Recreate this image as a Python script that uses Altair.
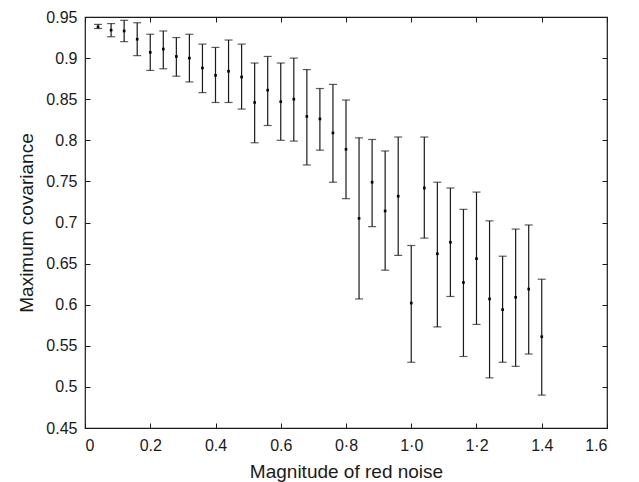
import altair as alt
import pandas as pd

noise = [0.04, 0.08, 0.12, 0.16, 0.20, 0.24, 0.28, 0.32, 0.36, 0.40, 0.44, 0.48,
         0.52, 0.56, 0.60, 0.64, 0.68, 0.72, 0.76, 0.80, 0.84, 0.88, 0.92, 0.96,
         1.00, 1.04, 1.08, 1.12, 1.16, 1.20, 1.24, 1.28, 1.32, 1.36, 1.40]
mean_cov = [0.938, 0.934, 0.933, 0.923, 0.907, 0.911, 0.902, 0.900, 0.888, 0.879,
            0.884, 0.877, 0.846, 0.861, 0.847, 0.850, 0.829, 0.826, 0.809, 0.789,
            0.705, 0.749, 0.714, 0.732, 0.602, 0.742, 0.662, 0.676, 0.627, 0.656,
            0.607, 0.594, 0.609, 0.619, 0.561]
upper_cov = [0.941, 0.942, 0.946, 0.943, 0.929, 0.933, 0.925, 0.929, 0.917, 0.913,
             0.922, 0.917, 0.894, 0.902, 0.894, 0.900, 0.886, 0.863, 0.868, 0.849,
             0.803, 0.801, 0.787, 0.804, 0.672, 0.804, 0.749, 0.742, 0.716, 0.737,
             0.702, 0.659, 0.692, 0.697, 0.631]
lower_cov = [0.936, 0.926, 0.920, 0.903, 0.885, 0.887, 0.878, 0.871, 0.858, 0.846,
             0.846, 0.838, 0.797, 0.818, 0.800, 0.799, 0.770, 0.788, 0.749, 0.729,
             0.607, 0.695, 0.642, 0.660, 0.530, 0.681, 0.573, 0.610, 0.537, 0.576,
             0.511, 0.530, 0.525, 0.540, 0.490]

x_ticks = [0, 0.2, 0.4, 0.6, 0.8, 1.0, 1.2, 1.4, 1.6]
x_tick_labels = ["0", "0.2", "0.4", "0.6", "0\u00b78", "1\u00b70", "1\u00b72", "1.4", "1.6"]
y_ticks = [0.45, 0.5, 0.55, 0.6, 0.65, 0.7, 0.75, 0.8, 0.85, 0.9, 0.95]

df = pd.DataFrame({"x": noise, "m": mean_cov, "hi": upper_cov, "lo": lower_cov})

W, H = 522, 411
FONT = "Liberation Sans"
INK = "#1a1a1a"

label_arr = "[" + ",".join("'" + s + "'" for s in x_tick_labels) + "]"
x_label_expr = label_arr + "[round(datum.value*5)]"

xs = alt.Scale(domain=[0, 1.6], nice=False, zero=False)
ys = alt.Scale(domain=[0.45, 0.95], nice=False, zero=False)

base = alt.Chart(df)

# main axes with labels (no ticks)
rules = base.mark_rule(color=INK, strokeWidth=1.2).encode(
    x=alt.X("x:Q", scale=xs, axis=alt.Axis(
        orient="bottom", values=x_ticks, labelExpr=x_label_expr, ticks=False,
        domain=False, grid=False, title="Magnitude of red noise",
        labelFont=FONT, labelFontSize=16, labelColor=INK, labelPadding=9,
        titleFont=FONT, titleFontSize=19, titleFontWeight="normal",
        titleColor=INK, titlePadding=9)),
    y=alt.Y("lo:Q", scale=ys, axis=alt.Axis(
        orient="left", values=y_ticks, format="~g", ticks=False, domain=False,
        grid=False, title="Maximum covariance", labelFont=FONT, labelFontSize=16,
        labelColor=INK, labelPadding=8, titleFont=FONT, titleFontSize=19,
        titleFontWeight="normal", titleColor=INK, titlePadding=9)),
    y2="hi:Q",
)

# inward ticks on bottom and left edges
caps_lo = base.mark_tick(orient="horizontal", size=8, thickness=1.2, color=INK).encode(
    x=alt.X("x:Q", scale=xs, axis=alt.Axis(
        orient="top", offset=-H, values=x_ticks, labels=False, ticks=True,
        tickSize=5, tickColor=INK, domain=False, grid=False, title=None)),
    y=alt.Y("lo:Q", scale=ys, axis=alt.Axis(
        orient="right", offset=-W, values=y_ticks, labels=False, ticks=True,
        tickSize=5, tickColor=INK, domain=False, grid=False, title=None)),
)

# inward ticks on top and right edges
caps_hi = base.mark_tick(orient="horizontal", size=8, thickness=1.2, color=INK).encode(
    x=alt.X("x:Q", scale=xs, axis=alt.Axis(
        orient="bottom", offset=-H, values=x_ticks, labels=False, ticks=True,
        tickSize=5, tickColor=INK, domain=False, grid=False, title=None)),
    y=alt.Y("hi:Q", scale=ys, axis=alt.Axis(
        orient="left", offset=-W, values=y_ticks, labels=False, ticks=True,
        tickSize=5, tickColor=INK, domain=False, grid=False, title=None)),
)

points = base.mark_square(size=7, color="#000", opacity=1).encode(
    x=alt.X("x:Q", scale=xs, axis=None),
    y=alt.Y("m:Q", scale=ys, axis=None),
)

chart = (
    alt.layer(rules, caps_lo, caps_hi, points)
    .resolve_scale(x="shared", y="shared")
    .resolve_axis(x="independent", y="independent")
    .properties(
        width=W, height=H,
        autosize=alt.AutoSizeParams(type="none"),
        padding={"left": 85, "top": 17, "right": 32, "bottom": 54},
        background="white",
    )
    .configure_view(stroke=INK, strokeWidth=1.2)
)

chart.save("out.html", embed_options={"renderer": "svg", "actions": False})
